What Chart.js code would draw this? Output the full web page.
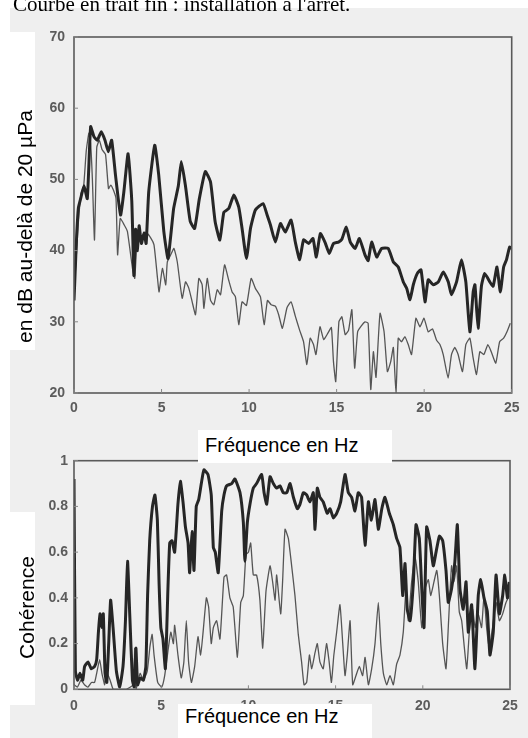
<!DOCTYPE html>
<html lang="fr">
<head>
<meta charset="utf-8">
<title>Niveau sonore et cohérence</title>
<script src="https://cdn.jsdelivr.net/npm/chart.js@4.4.1/dist/chart.umd.min.js"></script>
<style>
  html, body { margin: 0; padding: 0; background: #fff; }
  body { width: 528px; height: 738px; position: relative; overflow: hidden; font-family: "Liberation Sans", Arial, sans-serif; }
  #scan { position: absolute; left: 10px; top: 8px; right: 0; bottom: 0; background: #efefef; }
  .plot { position: absolute; left: 0; width: 528px; }
  #title { position: absolute; left: 13px; top: -6px; font: 21px/21px "Liberation Serif", "Times New Roman", serif; white-space: nowrap; }
  .box { position: absolute; background: #fff; }
  .lbl { position: absolute; font-size: 20px; line-height: 20px; white-space: nowrap; color: #000; }
  .vlbl { position: absolute; width: 300px; margin-left: -150px; margin-top: -10.5px; text-align: center;
          font-size: 21px; line-height: 21px; white-space: nowrap; transform: rotate(-90deg); }
</style>
</head>
<body>
<div id="scan"></div>
<div class="plot" style="top:0; height:420px;"><canvas id="splChart"></canvas></div>
<div class="plot" style="top:440px; height:298px;"><canvas id="cohChart"></canvas></div>
<div class="box" style="left:0; top:0; width:528px; height:8px;"></div>
<div id="title">Courbe en trait fin : installation à l'arrêt.</div>

<div class="box" style="left:0; top:32px; width:35px; height:318px;"></div>
<div class="vlbl" style="left:24px; top:226px;">en dB au-delà de 20 µPa</div>
<div class="box" style="left:10px; top:512px; width:25px; height:193px;"></div>
<div class="vlbl" style="left:26px; top:607px;">Cohérence</div>
<div class="box" style="left:198px; top:430px; width:194px; height:33px;"></div>
<div class="lbl" style="left:205px; top:435px;">Fréquence en Hz</div>
<div class="box" style="left:178px; top:704px; width:194px; height:34px;"></div>
<div class="lbl" style="left:185px; top:706px;">Fréquence en Hz</div>

<script>
const freqTicks = [0, 5, 10, 15, 20, 25];
const splTicks = [20, 30, 40, 50, 60, 70];
const cohTicks = [0, 0.2, 0.4, 0.6, 0.8, 1];
const cohTickLabels = ['0', '0.2', '0.4', '0.6', '0.8', '1'];

// [fréquence Hz, niveau dB] - trait épais : installation en marche
const splRunning = [
  [0, 33], [0.05, 36], [0.15, 42], [0.25, 46], [0.38, 47.3], [0.57, 49.1], [0.76, 47.3], [0.95, 57.4],
  [1.14, 56], [1.33, 55.5], [1.56, 56.7], [1.77, 55.5], [1.96, 53.9], [2.15, 55.5], [2.37, 50.6], [2.66, 45],
  [2.85, 48.3], [3.09, 53.6], [3.3, 47], [3.42, 36.5], [3.52, 43], [3.62, 40], [3.72, 43.5], [3.85, 41],
  [4.0, 42.5], [4.12, 41], [4.27, 48.3], [4.61, 54.8], [4.84, 50.6], [5.13, 42.7], [5.37, 38.9], [5.69, 45.9],
  [5.96, 49.1], [6.13, 52.5], [6.36, 49.2], [6.64, 44.1], [6.89, 43.1], [7.16, 47.3], [7.5, 51.1], [7.8, 49.6],
  [8.06, 44.1], [8.33, 41.5], [8.56, 45.4], [8.84, 45.9], [9.13, 47.8], [9.41, 46.1], [9.6, 43.1], [9.85, 38.9],
  [10.08, 43.1], [10.36, 45.7], [10.8, 46.6], [11.03, 45], [11.22, 43.6], [11.5, 41.2], [11.79, 43.8], [12.07, 42.6],
  [12.4, 44.3], [12.64, 41.2], [12.89, 38.7], [13.11, 41.5], [13.4, 41], [13.65, 41.7], [13.84, 39.1], [14.07, 42.4],
  [14.35, 41.1], [14.58, 39.6], [14.82, 41], [15.11, 41.2], [15.3, 41.6], [15.55, 43.3], [15.78, 41.2], [16.06, 40.3],
  [16.3, 41.7], [16.62, 39.4], [16.8, 38.6], [17.0, 41.2], [17.29, 39.1], [17.57, 40.3], [17.95, 40.3], [18.24, 38.4],
  [18.52, 37.7], [18.81, 35.6], [19.0, 34.7], [19.19, 33.1], [19.38, 35.2], [19.61, 36.8], [19.82, 37.3], [20.05, 32.8],
  [20.23, 35.9], [20.52, 35.2], [20.81, 35.6], [21.09, 37], [21.38, 35.6], [21.56, 33.8], [21.85, 35.6], [22.13, 38.7],
  [22.38, 35.6], [22.61, 28.6], [22.8, 34.2], [22.9, 35.2], [23.08, 29.1], [23.27, 35], [23.46, 36.8], [23.75, 35.6],
  [23.94, 35], [24.16, 37.7], [24.35, 34.2], [24.54, 37.7], [24.7, 38.7], [24.88, 40.5], [25, 40.3]
];

// trait fin : installation à l'arrêt
const splStopped = [
  [0, 34], [0.1, 38], [0.25, 44], [0.4, 48], [0.55, 49], [0.7, 54], [0.85, 56.5], [0.95, 55], [1.05, 50],
  [1.17, 41.5], [1.3, 54.5], [1.45, 55.5], [1.6, 54.2], [1.8, 53.5], [1.97, 48.7], [2.1, 49.2], [2.25, 48.5],
  [2.4, 47.3], [2.49, 39.4], [2.64, 44.5], [2.87, 43.6], [3.05, 42.7], [3.34, 37.5], [3.47, 36.1], [3.63, 42.2],
  [3.91, 41.8], [4.1, 42.6], [4.38, 41.8], [4.57, 40.8], [4.77, 36.1], [4.86, 34.2], [5.05, 37.5], [5.24, 35.2],
  [5.33, 38.4], [5.52, 39.4], [5.71, 40.3], [5.9, 38.4], [6.18, 33.3], [6.37, 35.6], [6.56, 34.7], [6.75, 32.8],
  [6.94, 31], [7.13, 36.1], [7.32, 35.2], [7.42, 31.9], [7.61, 36.1], [7.8, 33], [7.99, 32.4], [8.18, 34.5],
  [8.37, 33.8], [8.6, 38], [8.84, 35.8], [9.03, 34.2], [9.22, 33.5], [9.41, 29.6], [9.6, 32.8], [9.85, 32.3],
  [10.12, 36.1], [10.36, 34.7], [10.65, 33.5], [10.86, 29.6], [11.05, 33], [11.26, 32.4], [11.5, 32.2], [11.69, 31],
  [11.9, 29.1], [12.17, 32], [12.4, 32.8], [12.64, 30.8], [12.89, 28.8], [13.11, 27.2], [13.3, 24], [13.49, 27.7],
  [13.68, 26.8], [13.82, 25.4], [14.05, 29.3], [14.26, 27.5], [14.5, 28.4], [14.7, 29.2], [14.82, 24.4], [14.95, 21.6],
  [15.13, 30], [15.3, 30.7], [15.49, 28.2], [15.68, 28.8], [15.87, 31.7], [16.03, 23.5], [16.2, 28.6], [16.4, 29.4],
  [16.62, 30], [16.8, 29.8], [16.95, 20.5], [17.1, 25.8], [17.25, 22.2], [17.48, 31.2], [17.71, 28.6], [17.9, 23],
  [18.09, 24.4], [18.24, 26.4], [18.39, 20], [18.52, 27.7], [18.71, 27.2], [18.9, 27.9], [19.09, 26.8], [19.28, 25.4],
  [19.53, 30.5], [19.76, 29.3], [19.99, 30.5], [20.23, 28.6], [20.48, 29], [20.71, 27.4], [20.9, 26.8], [21.09, 25.4],
  [21.37, 22.1], [21.56, 25.4], [21.75, 26.4], [21.94, 25.4], [22.19, 23], [22.38, 26.8], [22.61, 27.7], [22.8, 24.9],
  [22.99, 22.6], [23.18, 25.8], [23.41, 25.4], [23.64, 26.8], [23.83, 25.8], [24.09, 24.2], [24.31, 27.2], [24.54, 27.7],
  [24.73, 28.6], [24.92, 29.8]
];

// [fréquence Hz, cohérence]
const cohRunning = [
  [0, 0.92], [0.08, 0.08], [0.2, 0.04], [0.34, 0.07], [0.5, 0.04], [0.61, 0.1], [0.8, 0.12], [0.99, 0.09],
  [1.18, 0.1], [1.3, 0.13], [1.4, 0.25], [1.49, 0.33], [1.59, 0.27], [1.68, 0.33], [1.78, 0.07], [1.88, 0.03],
  [1.99, 0.2], [2.1, 0.39], [2.24, 0.27], [2.43, 0.08], [2.62, 0.01], [2.81, 0.1], [2.95, 0.3], [3.07, 0.56],
  [3.2, 0.32], [3.35, 0.04], [3.45, 0.01], [3.55, 0.18], [3.65, 0.02], [3.8, 0.05], [3.98, 0.04], [4.12, 0.1],
  [4.22, 0.41], [4.34, 0.65], [4.5, 0.8], [4.64, 0.85], [4.78, 0.74], [4.88, 0.46], [4.98, 0.27], [5.1, 0.22],
  [5.24, 0.09], [5.39, 0.45], [5.49, 0.64], [5.62, 0.65], [5.77, 0.6], [5.96, 0.81], [6.1, 0.91], [6.25, 0.82],
  [6.39, 0.71], [6.54, 0.64], [6.63, 0.51], [6.77, 0.69], [6.88, 0.52], [7.01, 0.8], [7.15, 0.83], [7.3, 0.9],
  [7.45, 0.96], [7.68, 0.94], [7.87, 0.85], [7.99, 0.62], [8.1, 0.6], [8.27, 0.51], [8.47, 0.78], [8.6, 0.85],
  [8.75, 0.89], [9.04, 0.9], [9.23, 0.92], [9.52, 0.86], [9.71, 0.73], [9.8, 0.56], [9.94, 0.73], [10.09, 0.81],
  [10.28, 0.88], [10.47, 0.9], [10.76, 0.94], [10.9, 0.86], [11.05, 0.81], [11.24, 0.93], [11.43, 0.9], [11.62, 0.88],
  [11.81, 0.89], [12.0, 0.86], [12.2, 0.86], [12.39, 0.9], [12.58, 0.84], [12.81, 0.79], [12.96, 0.81], [13.15, 0.86],
  [13.34, 0.85], [13.53, 0.82], [13.72, 0.86], [13.82, 0.7], [13.95, 0.88], [14.1, 0.84], [14.29, 0.82], [14.52, 0.77],
  [14.68, 0.79], [14.87, 0.75], [15.06, 0.77], [15.29, 0.82], [15.54, 0.94], [15.73, 0.86], [15.92, 0.84], [16.11, 0.78],
  [16.3, 0.86], [16.49, 0.84], [16.69, 0.63], [16.88, 0.82], [17.05, 0.74], [17.26, 0.83], [17.45, 0.7], [17.65, 0.79],
  [17.83, 0.84], [18.08, 0.77], [18.31, 0.72], [18.5, 0.66], [18.69, 0.62], [18.85, 0.41], [18.98, 0.55], [19.11, 0.35],
  [19.27, 0.3], [19.46, 0.47], [19.61, 0.72], [19.8, 0.66], [19.94, 0.44], [20.07, 0.27], [20.22, 0.71], [20.41, 0.65],
  [20.6, 0.54], [20.76, 0.6], [20.95, 0.67], [21.14, 0.65], [21.33, 0.52], [21.46, 0.38], [21.65, 0.44], [21.84, 0.56],
  [21.98, 0.72], [22.13, 0.44], [22.32, 0.35], [22.48, 0.47], [22.61, 0.25], [22.8, 0.37], [22.99, 0.09], [23.18, 0.41],
  [23.32, 0.48], [23.51, 0.4], [23.7, 0.34], [23.85, 0.15], [24.04, 0.25], [24.2, 0.5], [24.39, 0.33], [24.58, 0.41],
  [24.7, 0.5], [24.85, 0.4], [24.96, 0.47]
];

const cohStopped = [
  [0, 0.02], [0.2, 0.01], [0.4, 0.04], [0.6, 0.02], [0.8, 0.01], [1.0, 0.03], [1.18, 0.03], [1.3, 0.07],
  [1.47, 0.13], [1.6, 0.07], [1.76, 0.02], [1.84, 0.08], [2.07, 0.04], [2.25, 0], [2.6, 0], [3.0, 0],
  [3.4, 0.02], [3.48, 0.18], [3.56, 0], [3.79, 0.07], [3.98, 0.04], [4.2, 0.08], [4.36, 0.19], [4.48, 0.24],
  [4.59, 0.15], [4.8, 0.03], [5.03, 0.01], [5.2, 0.06], [5.41, 0.18], [5.55, 0.25], [5.7, 0.2], [5.77, 0.28],
  [5.96, 0.15], [6.15, 0.05], [6.3, 0.12], [6.44, 0.3], [6.57, 0.12], [6.73, 0.03], [6.92, 0.1], [7.11, 0.23],
  [7.26, 0.15], [7.39, 0.24], [7.59, 0.4], [7.72, 0.36], [7.87, 0.2], [7.99, 0.27], [8.18, 0.3], [8.37, 0.22],
  [8.6, 0.49], [8.75, 0.5], [8.94, 0.4], [9.13, 0.36], [9.37, 0.14], [9.56, 0.38], [9.71, 0.41], [9.86, 0.59],
  [10.0, 0.6], [10.13, 0.64], [10.28, 0.5], [10.47, 0.5], [10.66, 0.39], [10.82, 0.18], [11.01, 0.43], [11.24, 0.54],
  [11.39, 0.47], [11.53, 0.39], [11.62, 0.5], [11.85, 0.33], [11.96, 0.47], [12.1, 0.7], [12.29, 0.66], [12.48, 0.54],
  [12.67, 0.41], [12.86, 0.24], [13.05, 0.12], [13.19, 0.02], [13.34, 0.03], [13.5, 0.15], [13.63, 0.09], [13.82, 0.16],
  [13.95, 0.2], [14.1, 0.12], [14.29, 0.09], [14.48, 0.2], [14.63, 0.12], [14.76, 0.03], [14.9, 0.15], [15.06, 0.25],
  [15.25, 0.37], [15.41, 0.2], [15.54, 0.06], [15.67, 0.15], [15.83, 0.3], [15.98, 0.02], [16.17, 0.06], [16.36, 0.1],
  [16.55, 0.06], [16.69, 0.14], [16.88, 0.02], [17.07, 0.09], [17.26, 0.2], [17.45, 0.38], [17.59, 0.2], [17.74, 0.07],
  [17.93, 0.02], [18.12, 0.06], [18.31, 0.02], [18.5, 0.11], [18.69, 0.15], [18.88, 0.25], [19.04, 0.44], [19.17, 0.3],
  [19.36, 0.47], [19.55, 0.58], [19.74, 0.47], [19.94, 0.27], [20.13, 0.44], [20.32, 0.48], [20.45, 0.41], [20.64, 0.47],
  [20.8, 0.52], [20.95, 0.41], [21.14, 0.2], [21.33, 0.09], [21.48, 0.3], [21.65, 0.54], [21.79, 0.47], [21.94, 0.54],
  [22.09, 0.34], [22.23, 0.3], [22.36, 0.2], [22.52, 0.09], [22.71, 0.3], [22.86, 0.35], [23.0, 0.27], [23.18, 0.33],
  [23.37, 0.27], [23.51, 0.41], [23.66, 0.27], [23.81, 0.18], [24.0, 0.27], [24.2, 0.38], [24.39, 0.3], [24.58, 0.33],
  [24.77, 0.38], [24.96, 0.41]
];

Chart.defaults.font.family = '"Liberation Sans", Arial, sans-serif';
Chart.defaults.animation = false;

const toPoints = arr => arr.map(([x, y]) => ({ x, y }));

// cadre du graphique + petites graduations vers l'intérieur
const framePlugin = {
  id: 'frame',
  afterDatasetsDraw(chart) {
    const { ctx, chartArea: a, scales } = chart;
    ctx.save();
    ctx.strokeStyle = '#5a5a5a';
    ctx.lineWidth = 1.6;
    ctx.strokeRect(a.left, a.top, a.right - a.left, a.bottom - a.top);
    ctx.lineWidth = 1;
    ctx.strokeStyle = '#888';
    ctx.beginPath();
    scales.y.ticks.forEach(t => {
      const y = scales.y.getPixelForValue(t.value);
      ctx.moveTo(a.left, y); ctx.lineTo(a.left + 4, y);
    });
    scales.x.ticks.forEach(t => {
      const x = scales.x.getPixelForValue(t.value);
      ctx.moveTo(x, a.bottom); ctx.lineTo(x, a.bottom - 4);
    });
    ctx.stroke();
    ctx.restore();
  }
};

function makeOptions(ymin, ymax, yTicks, yLabel, pad, yPad, xPad, xHeight) {
  return {
    responsive: true,
    maintainAspectRatio: false,
    layout: { padding: pad },
    plugins: { legend: { display: false }, tooltip: { enabled: false } },
    elements: { point: { radius: 0 } },
    scales: {
      x: {
        type: 'linear', min: 0, max: 25,
        grid: { display: false, drawTicks: false },
        border: { display: false },
        afterBuildTicks: s => { s.ticks = freqTicks.map(v => ({ value: v })); },
        afterFit: s => { s.height = xHeight; },
        ticks: { padding: xPad, color: '#5c5c5c', font: { size: 14, weight: 'bold' } }
      },
      y: {
        min: ymin, max: ymax,
        grid: { display: false, drawTicks: false },
        border: { display: false },
        afterBuildTicks: s => { s.ticks = yTicks.map(v => ({ value: v })); },
        afterFit: s => { s.width = 74; },
        ticks: { padding: yPad, color: '#5c5c5c', font: { size: 14, weight: 'bold' },
                 callback: (v, i) => yLabel[i] }
      }
    }
  };
}

new Chart(document.getElementById('splChart'), {
  type: 'line',
  data: {
    datasets: [
      { label: 'Installation en marche', data: toPoints(splRunning), borderColor: '#262626', borderWidth: 3, tension: 0.15 },
      { label: "Installation à l'arrêt", data: toPoints(splStopped), borderColor: '#555', borderWidth: 1.3, tension: 0.15 }
    ]
  },
  options: makeOptions(20, 70, splTicks, splTicks.map(String), { top: 37, right: 16.3, left: 0, bottom: 0 }, 9, 7, 27),
  plugins: [framePlugin]
});

new Chart(document.getElementById('cohChart'), {
  type: 'line',
  data: {
    datasets: [
      { label: 'Installation en marche', data: toPoints(cohRunning), borderColor: '#262626', borderWidth: 3, tension: 0.15 },
      { label: "Installation à l'arrêt", data: toPoints(cohStopped), borderColor: '#555', borderWidth: 1.3, tension: 0.15 }
    ]
  },
  options: makeOptions(0, 1, cohTicks, cohTickLabels, { top: 20.7, right: 18, left: 0, bottom: 0 }, 6, 8, 48.7),
  plugins: [framePlugin]
});
</script>
</body>
</html>
